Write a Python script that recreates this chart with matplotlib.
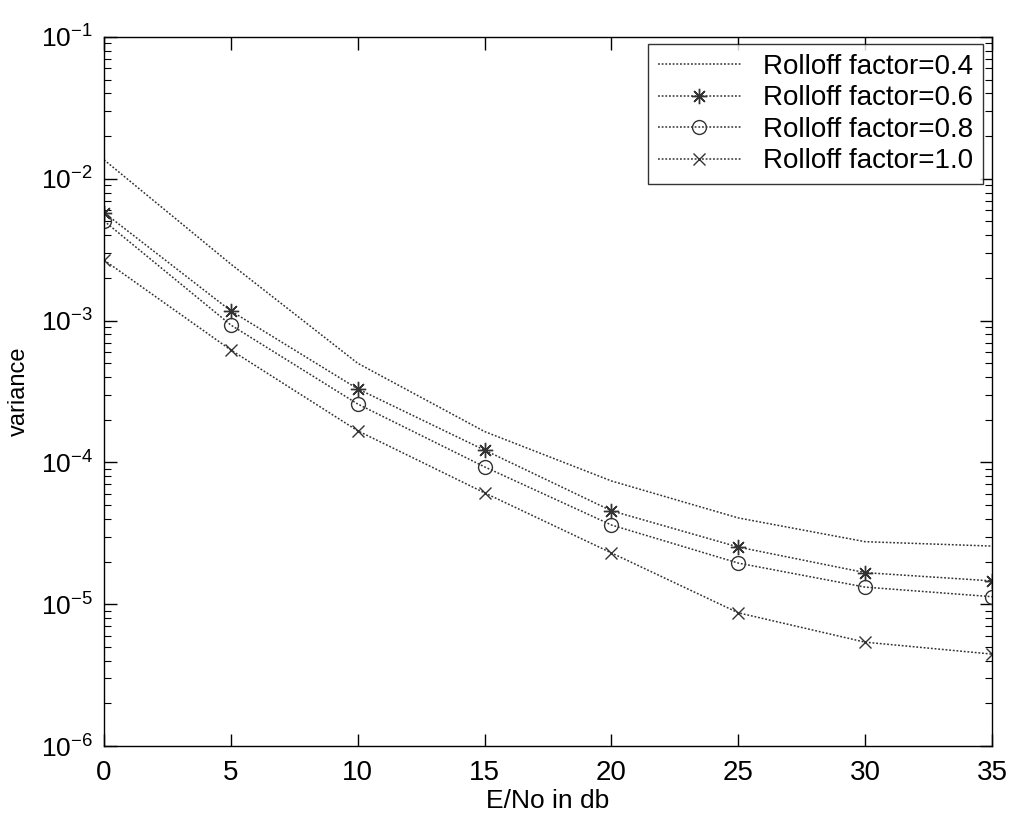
import numpy as np
import matplotlib
matplotlib.use("Agg")
import matplotlib.pyplot as plt
from matplotlib.ticker import LogLocator, FixedLocator, NullFormatter

# Data
ebno_db = [0, 5, 10, 15, 20, 25, 30, 35]
var_r04 = [1.36e-2, 2.5e-3, 5.0e-4, 1.65e-4, 7.4e-5, 4.06e-5, 2.76e-5, 2.57e-5]
var_r06 = [5.77e-3, 1.17e-3, 3.3e-4, 1.22e-4, 4.56e-5, 2.53e-5, 1.67e-5, 1.46e-5]
var_r08 = [5.04e-3, 9.3e-4, 2.58e-4, 9.3e-5, 3.62e-5, 1.95e-5, 1.32e-5, 1.13e-5]
var_r10 = [2.67e-3, 6.2e-4, 1.67e-4, 6.1e-5, 2.30e-5, 8.7e-6, 5.4e-6, 4.45e-6]
labels = ["Rolloff factor=0.4", "Rolloff factor=0.6",
          "Rolloff factor=0.8", "Rolloff factor=1.0"]

plt.rcParams['font.family'] = ['Liberation Sans', 'DejaVu Sans']
plt.rcParams['mathtext.default'] = 'regular'
plt.rcParams['axes.unicode_minus'] = False

fig = plt.figure(figsize=(10.14, 8.21), dpi=100)
ax = fig.add_axes([0.1026, 0.0913, 0.8757, 0.8637])

ls = (0, (1.2, 1.2))
col = '0.2'
ax.plot(ebno_db, var_r04, linestyle=ls, color=col, lw=1.1, label=labels[0])
ax.plot(ebno_db, var_r06, linestyle=ls, color=col, lw=1.1, marker=(8, 2, 0),
        ms=11, mew=1.0, label=labels[1])
ax.plot(ebno_db, var_r08, linestyle=ls, color=col, lw=1.1, marker='o',
        ms=10, mfc='none', mew=1.0, label=labels[2])
ax.plot(ebno_db, var_r10, linestyle=ls, color=col, lw=1.1, marker='x',
        ms=8, mew=1.0, label=labels[3])

ax.set_yscale('log')
ax.set_xlim(0, 35)
ax.set_ylim(1e-6, 1e-1)
ax.xaxis.set_major_locator(FixedLocator([0, 5, 10, 15, 20, 25, 30, 35]))
ax.yaxis.set_major_locator(LogLocator(base=10, numticks=10))
ax.yaxis.set_minor_locator(LogLocator(base=10, subs=np.arange(2, 10), numticks=10))
ax.yaxis.set_minor_formatter(NullFormatter())

ax.tick_params(which='both', direction='in', top=True, right=True, colors='black')
ax.tick_params(axis='x', labelsize=20, pad=10)
ax.tick_params(axis='y', labelsize=19, pad=8)
ax.tick_params(which='major', length=9, width=1)
ax.tick_params(which='minor', length=5, width=0.8)
for s in ax.spines.values():
    s.set_linewidth(1.0)
    s.set_color('black')

ax.set_xlabel("E/No in db", fontsize=19, labelpad=2)
ax.set_ylabel("variance", fontsize=17, labelpad=8)

leg = ax.legend(loc='upper right', bbox_to_anchor=(0.990, 0.990),
                fontsize=20, frameon=True, fancybox=False, borderaxespad=0,
                handlelength=3.0, handletextpad=0.8, labelspacing=0.2,
                borderpad=0.35)
leg.get_frame().set_edgecolor('black')
leg.get_frame().set_linewidth(1.0)

fig.savefig("out.png", dpi=100)
